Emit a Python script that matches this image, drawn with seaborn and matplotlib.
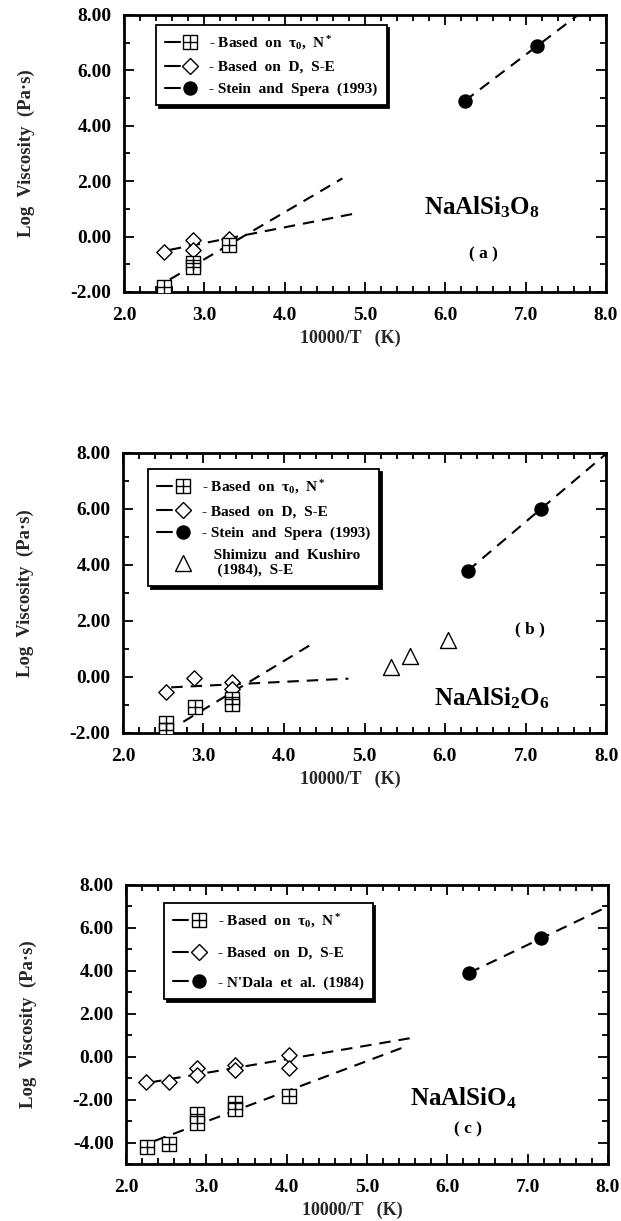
import matplotlib
matplotlib.use("Agg")
import matplotlib.pyplot as plt
import seaborn as sns
from matplotlib.lines import Line2D
from matplotlib.legend_handler import HandlerBase
from matplotlib.ticker import MultipleLocator, FormatStrFormatter

# ---------------- data ----------------
# Panel (a) NaAlSi3O8
a_tau_x = [2.50, 2.86, 2.86, 3.31]
a_tau_y = [-1.82, -0.95, -1.10, -0.30]
a_D_x = [2.50, 2.86, 2.86, 3.31]
a_D_y = [-0.55, -0.12, -0.50, -0.08]
a_ss_x = [6.24, 7.14]
a_ss_y = [4.89, 6.89]
a_tau_fit_x = [2.57, 4.72]
a_tau_fit_y = [-1.55, 2.10]
a_D_fit_x = [2.57, 4.84]
a_D_fit_y = [-0.48, 0.81]
a_ss_fit_x = [6.24, 7.70]
a_ss_fit_y = [4.89, 8.10]

# Panel (b) NaAlSi2O6
b_tau_x = [2.54, 2.54, 2.89, 3.35, 3.35]
b_tau_y = [-1.65, -1.90, -1.06, -0.78, -0.98]
b_D_x = [2.53, 2.88, 3.35, 3.35]
b_D_y = [-0.53, -0.02, -0.17, -0.42]
b_ss_x = [6.28, 7.19]
b_ss_y = [3.79, 6.00]
b_sk_x = [5.33, 5.56, 6.04]
b_sk_y = [0.34, 0.75, 1.33]
b_tau_fit_x = [2.75, 4.36]
b_tau_fit_y = [-1.60, 1.20]
b_D_fit_x = [2.60, 4.80]
b_D_fit_y = [-0.37, -0.06]
b_ss_fit_x = [6.28, 8.00]
b_ss_fit_y = [3.79, 7.97]

# Panel (c) NaAlSiO4
c_tau_x = [2.26, 2.53, 2.89, 2.89, 3.36, 3.36, 4.03]
c_tau_y = [-4.23, -4.05, -2.68, -3.10, -2.15, -2.42, -1.83]
c_D_x = [2.25, 2.53, 2.89, 2.89, 3.36, 3.36, 4.03, 4.03]
c_D_y = [-1.19, -1.19, -0.53, -0.84, -0.37, -0.62, 0.07, -0.53]
c_nd_x = [6.27, 7.17]
c_nd_y = [3.90, 5.52]
c_tau_fit_x = [2.36, 5.50]
c_tau_fit_y = [-3.92, 0.50]
c_D_fit_x = [2.30, 5.60]
c_D_fit_y = [-1.20, 0.90]
c_nd_fit_x = [6.27, 8.00]
c_nd_fit_y = [3.90, 7.00]

lab_tau = "- Based  on  τ$_0$,  N$^*$"
lab_D = "- Based  on  D,  S-E"
lab_ss = "- Stein  and  Spera  (1993)"
lab_sk = "   Shimizu  and  Kushiro\n    (1984),  S-E"
lab_nd = "- N'Dala  et  al.  (1984)"

# ---------------- style ----------------
sns.set_style("ticks")
plt.rcParams.update({
    "font.family": ["Liberation Serif", "DejaVu Serif"],
    "font.weight": "bold",
    "axes.labelweight": "bold",
    "axes.unicode_minus": False,
    "mathtext.fontset": "custom",
    "mathtext.rm": "Liberation Serif:bold",
    "mathtext.it": "Liberation Serif:bold:italic",
    "mathtext.bf": "Liberation Serif:bold",
    "text.color": "black",
    "axes.edgecolor": "black",
    "xtick.color": "black",
    "ytick.color": "black",
})

SQ = 9.4   # marker sizes in points
DI = 7.8
CI = 9.4
TR = 11.5
DASH = (0, (5.5, 3.8))


class DashMarker(HandlerBase):
    def __init__(self, line=True, **kw):
        super().__init__(**kw)
        self.line = line

    def create_artists(self, legend, orig_handle, xdescent, ydescent,
                       width, height, fontsize, trans):
        y = height / 2 - ydescent
        x0 = -xdescent
        arts = []
        if self.line:
            arts.append(Line2D([x0, x0 + 0.42 * width], [y, y], color="k",
                               lw=1.5, transform=trans))
        xm = x0 + 0.72 * width
        for h in orig_handle:
            arts.append(Line2D([xm], [y], linestyle="none",
                               marker=h.get_marker(),
                               markersize=h.get_markersize(),
                               markerfacecolor=h.get_markerfacecolor(),
                               markeredgecolor=h.get_markeredgecolor(),
                               markeredgewidth=h.get_markeredgewidth(),
                               transform=trans))
        return arts


def mk(marker, ms, fc):
    return Line2D([], [], marker=marker, markersize=ms, markerfacecolor=fc,
                  markeredgecolor="k", markeredgewidth=1.0, linestyle="none")


def style_axes(ax, ymin):
    ax.set_xlim(2, 8)
    ax.set_ylim(ymin, 8)
    ax.xaxis.set_major_locator(MultipleLocator(1.0))
    ax.xaxis.set_minor_locator(MultipleLocator(0.2))
    ax.yaxis.set_major_locator(MultipleLocator(2.0))
    ax.yaxis.set_minor_locator(MultipleLocator(1.0))
    ax.xaxis.set_major_formatter(FormatStrFormatter("%.1f"))
    ax.yaxis.set_major_formatter(FormatStrFormatter("%.2f"))
    ax.tick_params(which="both", direction="in", top=True, right=True,
                   width=1.3, labelsize=14)
    ax.tick_params(which="major", length=7)
    ax.tick_params(which="minor", length=4)
    ax.tick_params(axis="x", which="major", pad=11)
    ax.tick_params(axis="y", which="major", pad=9)
    for lab in ax.get_xticklabels() + ax.get_yticklabels():
        lab.set_fontweight("bold")
    for s in ax.spines.values():
        s.set_linewidth(2.0)
        s.set_color("black")
    ax.set_xlabel("10000/T   (K)", fontsize=13, fontweight="bold")
    ax.set_ylabel("Log  Viscosity  (Pa·s)", fontsize=13.5, fontweight="bold")
    ax.yaxis.set_label_coords(-0.185, 0.5)
    ax.xaxis.set_label_coords(0.47, -0.135)


def sq_cross(ax, x, y):
    sns.scatterplot(x=x, y=y, ax=ax, marker="s", s=SQ ** 2, facecolor="white",
                    edgecolor="black", linewidth=1.0, zorder=4)
    sns.scatterplot(x=x, y=y, ax=ax, marker="+", s=SQ ** 2, color="black",
                    linewidth=1.0, zorder=5)


def diam(ax, x, y):
    sns.scatterplot(x=x, y=y, ax=ax, marker="D", s=DI ** 2, facecolor="white",
                    edgecolor="black", linewidth=1.0, zorder=4)


def dot(ax, x, y):
    sns.scatterplot(x=x, y=y, ax=ax, marker="o", s=CI ** 2, color="black",
                    edgecolor="black", linewidth=1.0, zorder=4)


def tri(ax, x, y):
    sns.scatterplot(x=x, y=y, ax=ax, marker="^", s=TR ** 2, facecolor="white",
                    edgecolor="black", linewidth=1.0, zorder=4)


def fit(ax, x, y):
    sns.lineplot(x=x, y=y, ax=ax, color="black", lw=1.5, linestyle=DASH,
                 zorder=2)


def add_legend(ax, handles, labels, anchor, spacing):
    hm = {}
    for h, l in zip(handles, labels):
        hm[h] = DashMarker(line=not l.startswith(" "))
    leg = ax.legend(handles, labels, handler_map=hm, loc="upper left",
                    bbox_to_anchor=anchor, borderaxespad=0, frameon=True,
                    fancybox=False, shadow={"color": "black", "alpha": 1},
                    edgecolor="black", framealpha=1,
                    prop={"family": "Liberation Serif", "weight": "bold",
                          "size": 11},
                    handlelength=2.3, handletextpad=0.6,
                    labelspacing=spacing, borderpad=0.6)
    leg.get_frame().set_linewidth(1.3)
    leg.set_zorder(10)
    return leg


fig = plt.figure(figsize=(6.21, 12.21), dpi=100)
fig.patch.set_facecolor("white")

h_tau = (mk("s", SQ, "white"), mk("+", SQ, "black"))
h_D = (mk("D", DI, "white"),)
h_ss = (mk("o", CI, "black"),)
h_sk = (mk("^", TR, "white"),)
h_nd = (mk("o", CI, "black"),)

# ---- panel (a)
ax1 = fig.add_axes([0.1997, 0.7609, 0.776, 0.2269])
fit(ax1, a_tau_fit_x, a_tau_fit_y)
fit(ax1, a_D_fit_x, a_D_fit_y)
fit(ax1, a_ss_fit_x, a_ss_fit_y)
diam(ax1, a_D_x, a_D_y)
sq_cross(ax1, a_tau_x, a_tau_y)
dot(ax1, a_ss_x, a_ss_y)
style_axes(ax1, -2)
ax1.text(6.46, 1.05, "NaAlSi$_3$O$_8$", fontsize=18, fontweight="bold",
         ha="center", va="center")
ax1.text(6.48, -0.66, "( a )", fontsize=12.5, fontweight="bold",
         ha="center", va="center")
add_legend(ax1, [h_tau, h_D, h_ss], [lab_tau, lab_D, lab_ss],
           (0.066, 0.964), 0.55)

# ---- panel (b)
ax2 = fig.add_axes([0.198, 0.3997, 0.778, 0.2293])
fit(ax2, b_tau_fit_x, b_tau_fit_y)
fit(ax2, b_D_fit_x, b_D_fit_y)
fit(ax2, b_ss_fit_x, b_ss_fit_y)
diam(ax2, b_D_x, b_D_y)
sq_cross(ax2, b_tau_x, b_tau_y)
dot(ax2, b_ss_x, b_ss_y)
tri(ax2, b_sk_x, b_sk_y)
style_axes(ax2, -2)
ax2.text(6.58, -0.75, "NaAlSi$_2$O$_6$", fontsize=18, fontweight="bold",
         ha="center", va="center")
ax2.text(7.06, 1.71, "( b )", fontsize=12.5, fontweight="bold",
         ha="center", va="center")
add_legend(ax2, [h_tau, h_D, h_ss, h_sk], [lab_tau, lab_D, lab_ss, lab_sk],
           (0.052, 0.943), 0.55)

# ---- panel (c)
ax3 = fig.add_axes([0.2029, 0.0467, 0.776, 0.2285])
fit(ax3, c_tau_fit_x, c_tau_fit_y)
fit(ax3, c_D_fit_x, c_D_fit_y)
fit(ax3, c_nd_fit_x, c_nd_fit_y)
diam(ax3, c_D_x, c_D_y)
sq_cross(ax3, c_tau_x, c_tau_y)
dot(ax3, c_nd_x, c_nd_y)
style_axes(ax3, -5)
ax3.text(6.2, -1.95, "NaAlSiO$_4$", fontsize=18, fontweight="bold",
         ha="center", va="center")
ax3.text(6.26, -3.37, "( c )", fontsize=12.5, fontweight="bold",
         ha="center", va="center")
add_legend(ax3, [h_tau, h_D, h_nd], [lab_tau, lab_D, lab_nd],
           (0.079, 0.935), 1.05)

fig.savefig("out.png", dpi=100, facecolor="white")
